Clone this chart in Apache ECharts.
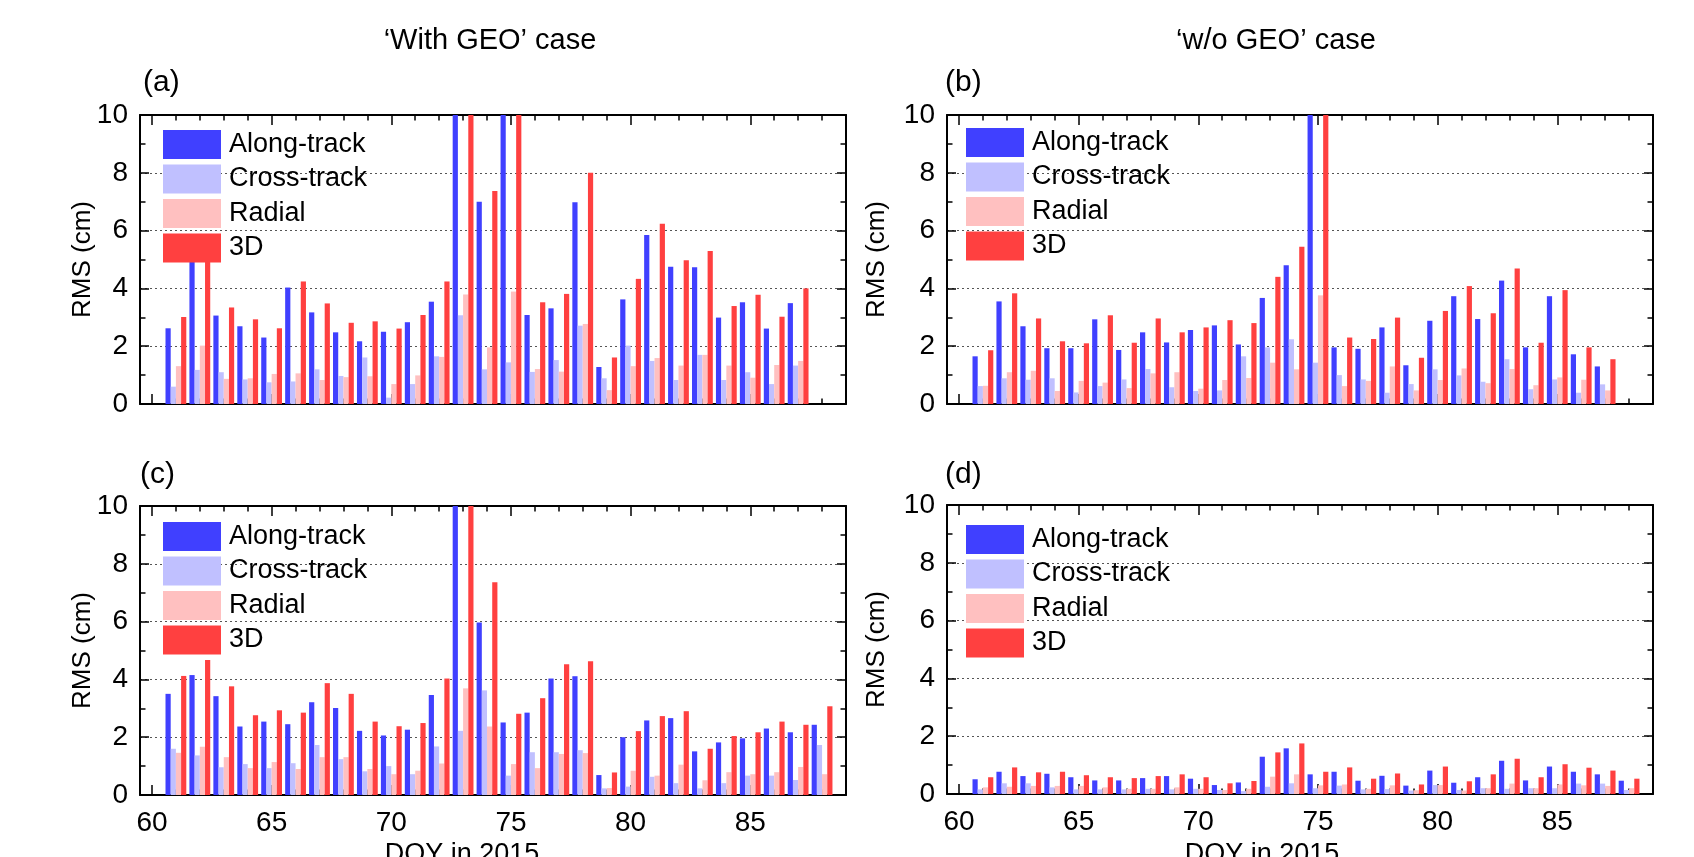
<!DOCTYPE html>
<html>
<head>
<meta charset="utf-8">
<script src="https://cdn.jsdelivr.net/npm/echarts@6/dist/echarts.min.js"></script>
<style>
  html, body { margin: 0; padding: 0; background: #fff; }
  #main { width: 1694px; height: 857px; }
</style>
</head>
<body>
<div id="main"></div>
<script>
// day of year, 2015
var days = [61,62,63,64,65,66,67,68,69,70,71,72,73,74,75,76,77,78,79,80,81,82,83,84,85,86,87,88];
var seriesNames = ['Along-track', 'Cross-track', 'Radial', '3D'];
var majorTicks = [60, 65, 70, 75, 80, 85];
var minorTicks = [61,62,63,64,66,67,68,69,71,72,73,74,76,77,78,79,81,82,83,84,86,87,88];

// (a) 'With GEO' case, top
var aAlong  = [2.62,5.4,3.06,2.69,2.3,4.03,3.17,2.48,2.17,2.5,2.83,3.54,12,7.0,12,3.08,3.31,6.98,1.28,3.62,5.85,4.75,4.73,2.99,3.52,2.61,3.49];
var aCross  = [0.6,1.18,1.1,0.85,0.75,0.78,1.2,0.97,1.61,0.22,0.69,1.65,3.07,1.2,1.44,1.11,1.52,2.71,0.89,2.02,1.49,0.83,1.7,0.83,1.1,0.69,1.33];
var aRadial = [1.31,2.02,0.87,0.89,1.04,1.06,0.83,0.93,0.96,0.69,0.99,1.63,3.79,1.96,3.89,1.21,1.12,2.77,0.48,1.31,1.59,1.33,1.7,1.33,0.91,1.35,1.49];
var a3D     = [3.01,5.6,3.34,2.93,2.62,4.24,3.48,2.81,2.86,2.61,3.08,4.24,12,7.37,12,3.52,3.81,8.0,1.61,4.33,6.24,4.97,5.29,3.39,3.78,3.02,4.0];

// (b) 'w/o GEO' case, top
var bAlong  = [1.65,3.55,2.69,1.93,1.93,2.93,1.87,2.48,2.13,2.56,2.72,2.06,3.67,4.8,12,1.96,1.91,2.65,1.34,2.88,3.73,2.94,4.27,1.96,3.73,1.72,1.3];
var bCross  = [0.62,0.89,0.84,0.89,0.4,0.62,0.85,1.21,0.58,0.45,0.47,1.65,1.96,2.24,1.43,1.0,0.85,0.39,0.69,1.2,0.99,0.77,1.55,0.51,0.85,0.39,0.68];
var bRadial = [0.63,1.1,1.15,0.45,0.8,0.74,0.55,1.06,1.1,0.53,0.83,0.9,1.43,1.2,3.76,0.62,0.8,1.3,0.47,0.83,1.23,0.72,1.21,0.65,0.92,0.84,0.47];
var b3D     = [1.86,3.83,2.96,2.17,2.1,3.07,2.12,2.96,2.48,2.65,2.9,2.8,4.4,5.44,12,2.3,2.25,2.99,1.6,3.22,4.08,3.14,4.69,2.12,3.94,1.96,1.55];

// (c) 'With GEO' case, bottom
var cAlong  = [3.5,4.15,3.42,2.37,2.54,2.45,3.21,3.01,2.22,2.06,2.26,3.46,12,5.97,2.51,2.85,4.03,4.11,0.69,2.0,2.58,2.66,1.51,1.82,1.96,2.3,2.17,2.43];
var cCross  = [1.6,1.37,0.96,1.07,0.93,1.1,1.73,1.24,0.82,1.0,0.72,1.68,2.22,3.62,0.67,1.48,1.48,1.55,0.23,0.29,0.63,0.41,0.23,0.41,0.67,0.67,0.52,1.73];
var cRadial = [1.46,1.67,1.31,0.93,1.14,0.9,1.31,1.31,0.9,0.72,0.84,1.09,3.69,2.37,1.07,0.93,1.42,1.45,0.24,0.84,0.67,1.05,0.51,0.79,0.72,0.79,0.97,0.72];
var c3D     = [4.12,4.67,3.76,2.76,2.93,2.85,3.87,3.5,2.54,2.38,2.49,4.03,12,7.36,2.81,3.35,4.52,4.63,0.78,2.21,2.73,2.9,1.6,2.04,2.17,2.54,2.43,3.07];

// (d) 'w/o GEO' case, bottom
var dAlong  = [0.51,0.77,0.62,0.7,0.58,0.47,0.47,0.55,0.62,0.53,0.31,0.4,1.29,1.58,0.68,0.77,0.46,0.63,0.29,0.81,0.39,0.58,1.15,0.47,0.95,0.77,0.68,0.46];
var dCross  = [0.16,0.37,0.37,0.23,0.16,0.16,0.16,0.18,0.16,0.18,0.14,0.1,0.25,0.37,0.2,0.29,0.16,0.17,0.12,0.31,0.14,0.2,0.18,0.2,0.2,0.36,0.36,0.14];
var dRadial = [0.23,0.25,0.28,0.28,0.28,0.23,0.18,0.18,0.23,0.18,0.14,0.18,0.6,0.68,0.3,0.33,0.18,0.3,0.13,0.31,0.12,0.2,0.36,0.2,0.33,0.3,0.28,0.2];
var d3D     = [0.58,0.92,0.75,0.77,0.65,0.58,0.55,0.62,0.68,0.58,0.37,0.45,1.44,1.75,0.77,0.92,0.53,0.71,0.33,0.95,0.44,0.68,1.22,0.58,1.03,0.91,0.81,0.53];

var colors = ['#4040ff', '#c0c0ff', '#ffc0c0', '#ff4040'];
var font = "'Liberation Sans', Arial, sans-serif";

var panels = [
    { rect: [140, 115], legend: [158, 125], nameGap: 44, xLabels: false, data: [aAlong, aCross, aRadial, a3D] },
    { rect: [947, 115], legend: [961, 123], nameGap: 57, xLabels: false, data: [bAlong, bCross, bRadial, b3D] },
    { rect: [140, 506], legend: [158, 517], nameGap: 44, xLabels: true,  data: [cAlong, cCross, cRadial, c3D] },
    { rect: [947, 505], legend: [961, 520], nameGap: 57, xLabels: true,  data: [dAlong, dCross, dRadial, d3D] }
];

var grid = [], xAxis = [], yAxis = [], series = [], legend = [];

panels.forEach(function (p, g) {
    grid.push({ left: p.rect[0], top: p.rect[1], width: 706, height: 289 });

    function xax(pos, ticks, len, labels, line) {
        return {
            type: 'value', gridIndex: g, position: pos, min: 59.5, max: 89,
            axisLine: { show: line, onZero: false, lineStyle: { color: '#000', width: 2 } },
            axisTick: { show: true, inside: true, length: len, customValues: ticks, lineStyle: { color: '#000', width: 1.5 } },
            axisLabel: { show: labels, customValues: ticks, margin: 14, color: '#000', fontSize: 28, fontFamily: font },
            splitLine: { show: false }
        };
    }
    xAxis.push(xax('bottom', majorTicks, 10, p.xLabels, true));
    xAxis.push(xax('bottom', minorTicks, 5.5, false, false));
    xAxis.push(xax('top', majorTicks, 10, false, true));
    xAxis.push(xax('top', minorTicks, 5.5, false, false));

    yAxis.push({
        type: 'value', gridIndex: g, position: 'left', min: 0, max: 10, interval: 2,
        name: 'RMS (cm)', nameLocation: 'middle', nameGap: p.nameGap, nameRotate: 90,
        nameMoveOverlap: false,
        nameTextStyle: { color: '#000', fontSize: 26, fontFamily: font },
        axisLine: { show: true, lineStyle: { color: '#000', width: 2 } },
        axisTick: { inside: true, length: 9, lineStyle: { color: '#000', width: 1.5 } },
        minorTick: { show: true, splitNumber: 2, length: 5.5, lineStyle: { color: '#000', width: 1.5 } },
        axisLabel: { margin: 12, color: '#000', fontSize: 28, fontFamily: font },
        splitLine: { show: true, lineStyle: { color: '#555', type: [2, 3], width: 1 } }
    });
    yAxis.push({
        type: 'value', gridIndex: g, position: 'right', min: 0, max: 10, interval: 2,
        axisLine: { show: true, lineStyle: { color: '#000', width: 2 } },
        axisTick: { inside: true, length: 9, lineStyle: { color: '#000', width: 1.5 } },
        minorTick: { show: true, splitNumber: 2, length: 5.5, lineStyle: { color: '#000', width: 1.5 } },
        axisLabel: { show: false },
        splitLine: { show: false }
    });

    seriesNames.forEach(function (name, k) {
        series.push({
            name: name, type: 'bar',
            xAxisIndex: g * 4, yAxisIndex: g * 2,
            barWidth: 5.2, barGap: '0%',
            itemStyle: { color: colors[k] },
            data: p.data[k].map(function (v, i) { return [days[i], v]; })
        });
    });

    legend.push({
        orient: 'vertical', left: p.legend[0], top: p.legend[1],
        itemWidth: 58, itemHeight: 29, itemGap: 5.5, icon: 'rect',
        textStyle: { color: '#000', fontSize: 27, fontFamily: font, padding: [0, 0, 0, 3] },
        data: seriesNames
    });
});

var txt = function (x, y, s, size, align) {
    return { type: 'text', x: x, y: y, style: { text: s, fill: '#000', font: size + 'px ' + font, align: align || 'center', verticalAlign: 'middle' } };
};

var myChart = echarts.init(document.getElementById('main'));
myChart.setOption({
    animation: false,
    backgroundColor: '#fff',
    grid: grid,
    xAxis: xAxis,
    yAxis: yAxis,
    legend: legend,
    series: series,
    graphic: [
        txt(490, 41, '\u2018With GEO\u2019 case', 29),
        txt(1276, 41, '\u2018w/o GEO\u2019 case', 29),
        txt(143, 83, '(a)', 30, 'left'),
        txt(945, 83, '(b)', 30, 'left'),
        txt(140, 475, '(c)', 30, 'left'),
        txt(945, 475, '(d)', 30, 'left'),
        txt(462, 855, 'DOY in 2015', 27),
        txt(1262, 855, 'DOY in 2015', 27)
    ]
});
</script>
</body>
</html>
